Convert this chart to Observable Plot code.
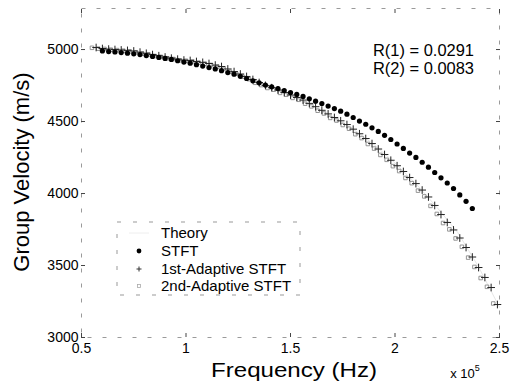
<!DOCTYPE html>
<html><head><meta charset="utf-8">
<script src="https://cdn.jsdelivr.net/npm/d3@7"></script>
<script src="https://cdn.jsdelivr.net/npm/@observablehq/plot@0.6"></script>
<style>body{margin:0;background:#fff}</style>
</head><body><div id="chart"></div>
<script>
// Frequency in units of 1e5 Hz, group velocity in m/s
const xTicks = [0.5, 1, 1.5, 2, 2.5];
const xTickLabels = ["0.5", "1", "1.5", "2", "2.5"];
const yTicks = [3000, 3500, 4000, 4500, 5000];
const yTickLabels = ["3000", "3500", "4000", "4500", "5000"];

const seriesNames = ["Theory", "STFT", "1st-Adaptive STFT", "2nd-Adaptive STFT"];
const annotations = ["R(1) = 0.0291", "R(2) = 0.0083"];

const theoryX = [0.57,0.7,0.8,0.9,1.0,1.1,1.2,1.3,1.4,1.5,1.6,1.7,1.8,1.9,2.0,2.1,2.2,2.3,2.4,2.5];
const theoryY = [5012,4998,4978,4955,4930,4900,4862,4810,4745,4680,4612,4535,4447,4340,4212,4068,3905,3730,3490,3210];

const stftX = [0.60,0.63,0.66,0.69,0.72,0.75,0.78,0.81,0.84,0.87,
0.90,0.93,0.96,0.99,1.02,1.05,1.08,1.11,1.14,1.17,
1.20,1.23,1.26,1.29,1.32,1.35,1.38,1.41,1.44,1.47,
1.50,1.53,1.56,1.59,1.62,1.65,1.68,1.71,1.74,1.77,
1.80,1.83,1.86,1.89,1.92,1.95,1.98,2.01,2.04,2.07,
2.10,2.13,2.16,2.19,2.22,2.25,2.28,2.31,2.34,2.37];
const stftY = [4990,4986,4983,4979,4975,4970,4965,4958,4952,4945,
4938,4931,4922,4913,4905,4895,4885,4875,4865,4853,
4840,4829,4814,4799,4783,4769,4753,4741,4729,4715,
4701,4688,4674,4658,4641,4625,4607,4590,4572,4551,
4528,4503,4481,4456,4431,4404,4375,4344,4313,4281,
4251,4217,4183,4146,4109,4073,4035,3990,3946,3896];

const adapt1X = [0.57,0.60,0.63,0.66,0.69,0.72,0.75,0.78,0.81,0.84,
0.87,0.90,0.93,0.96,0.99,1.02,1.05,1.08,1.11,1.14,
1.17,1.20,1.23,1.26,1.29,1.32,1.35,1.38,1.41,1.44,
1.47,1.50,1.53,1.56,1.59,1.62,1.65,1.68,1.71,1.74,
1.77,1.80,1.83,1.86,1.89,1.92,1.95,1.98,2.01,2.04,
2.07,2.10,2.13,2.16,2.19,2.22,2.25,2.28,2.31,2.34,
2.37,2.40,2.43,2.46,2.49];
const adapt1Y = [5014,5007,5003,5000,4997,4994,4990,4982,4974,4965,
4957,4948,4940,4933,4927,4924,4917,4911,4903,4892,
4882,4865,4847,4830,4813,4792,4771,4751,4735,4719,
4701,4684,4667,4649,4626,4603,4578,4553,4528,4505,
4479,4447,4415,4382,4347,4309,4271,4231,4193,4153,
4111,4069,4024,3976,3917,3854,3799,3747,3691,3625,
3559,3486,3417,3347,3229];

const adapt2X = [0.55,0.58,0.61,0.64,0.67,0.70,0.73,0.76,0.79,0.82,
0.85,0.88,0.91,0.94,0.97,1.00,1.03,1.06,1.09,1.12,
1.15,1.18,1.21,1.24,1.27,1.30,1.33,1.36,1.39,1.42,
1.45,1.48,1.51,1.54,1.57,1.60,1.63,1.66,1.69,1.72,
1.75,1.78,1.81,1.84,1.87,1.90,1.93,1.96,1.99,2.02,
2.05,2.08,2.11,2.14,2.17,2.20,2.23,2.26,2.29,2.32,
2.35,2.38,2.41,2.44,2.47];
const adapt2Y = [5012,5006,5004,4999,4996,4992,4988,4981,4972,4966,
4955,4949,4939,4934,4925,4922,4918,4909,4901,4893,
4880,4866,4845,4832,4811,4794,4769,4753,4733,4721,
4699,4686,4664,4651,4624,4605,4575,4556,4525,4507,
4476,4450,4412,4385,4344,4312,4268,4234,4190,4156,
4108,4072,4020,3980,3914,3858,3795,3751,3688,3630,
3555,3490,3413,3352,3236];

const theory = theoryX.map((x, i) => ({x, y: theoryY[i]}));
const stft = stftX.map((x, i) => ({x, y: stftY[i]}));
const adapt1 = adapt1X.map((x, i) => ({x, y: adapt1Y[i]}));
const adapt2 = adapt2X.map((x, i) => ({x, y: adapt2Y[i]}));

const W = 514, H = 382;
const mL = 81, mR = 15, mT = 8, mB = 45;
const font = "'Liberation Sans', Arial, Helvetica, sans-serif";

const plot = Plot.plot({
  width: W, height: H,
  marginLeft: mL, marginRight: mR, marginTop: mT, marginBottom: mB,
  style: {fontFamily: font, fontSize: "14px", color: "#000", background: "#fff", overflow: "visible"},
  x: {domain: [0.5, 2.5]},
  y: {domain: [3000, 5285]},
  marks: [
    Plot.frame({stroke: "#9a9a9a", strokeDasharray: "4,11"}),
    Plot.axisX(xTicks, {anchor: "bottom", tickSize: -4, tickPadding: 10, label: null, stroke: "#444",
      tickFormat: d => xTickLabels[xTicks.indexOf(d)]}),
    Plot.axisX(xTicks, {anchor: "top", tickSize: -4, label: null, stroke: "#444", tickFormat: () => ""}),
    Plot.axisY(yTicks, {anchor: "left", tickSize: -4, tickPadding: 7, label: null, stroke: "#444",
      tickFormat: d => yTickLabels[yTicks.indexOf(d)]}),
    Plot.axisY(yTicks, {anchor: "right", tickSize: -4, label: null, stroke: "#444", tickFormat: () => ""}),
    Plot.line(theory, {x: "x", y: "y", stroke: "#e6e6e6", strokeWidth: 1}),
    Plot.dot(adapt2, {x: "x", y: "y", symbol: "square", r: 2, stroke: "#8a8a8a", fill: "none", strokeWidth: 0.9}),
    Plot.dot(adapt1, {x: "x", y: "y", symbol: "plus", r: 2.6, stroke: "#222", fill: "none", strokeWidth: 1}),
    Plot.dot(stft, {x: "x", y: "y", symbol: "circle", r: 2.6, fill: "#000", stroke: "none"})
  ]
});

const svg = d3.select(plot);
const addText = (txt, x, y, size, anchor = "start", transform = null) => {
  const t = svg.append("text").attr("x", x).attr("y", y)
    .attr("font-family", font).attr("font-size", size).attr("fill", "#000")
    .attr("text-anchor", anchor).text(txt);
  if (transform) t.attr("transform", transform).attr("x", 0).attr("y", 0);
  return t;
};

// axis titles
addText("Frequency (Hz)", 294, 377, 21, "middle").attr("textLength", 166).attr("lengthAdjust", "spacingAndGlyphs");
addText("Group Velocity (m/s)", 0, 0, 22, "middle", "translate(29,172) rotate(-90)");
// exponent
const ex = svg.append("text").attr("x", 465).attr("y", 378).attr("font-family", font).attr("font-size", 13).attr("fill", "#000");
ex.append("tspan").text("x 10");
ex.append("tspan").attr("dy", -7).attr("font-size", 9).text("5");

// annotations
addText(annotations[0], 373, 56, 16).attr("textLength", 101).attr("lengthAdjust", "spacingAndGlyphs");
addText(annotations[1], 373, 74, 16).attr("textLength", 101).attr("lengthAdjust", "spacingAndGlyphs");

// legend
svg.append("rect").attr("x", 117).attr("y", 222).attr("width", 183).attr("height", 73)
  .attr("fill", "#fff").attr("stroke", "#999").attr("stroke-dasharray", "4,12");
const lx = 139, tx = 161, ly = [233, 251, 269, 286];
svg.append("line").attr("x1", lx - 10).attr("x2", lx + 10).attr("y1", ly[0]).attr("y2", ly[0]).attr("stroke", "#eee");
svg.append("circle").attr("cx", lx).attr("cy", ly[1]).attr("r", 2.4).attr("fill", "#000");
svg.append("path").attr("d", `M${lx-2.5},${ly[2]}h5M${lx},${ly[2]-2.5}v5`).attr("stroke", "#333").attr("fill", "none");
svg.append("rect").attr("x", lx - 1.5).attr("y", ly[3] - 1.5).attr("width", 3).attr("height", 3).attr("stroke", "#aaa").attr("fill", "none").attr("stroke-width", 0.8);
seriesNames.forEach((s, i) => addText(s, tx, ly[i] + 5, 15));

document.getElementById("chart").appendChild(plot);
</script>
</body></html>
